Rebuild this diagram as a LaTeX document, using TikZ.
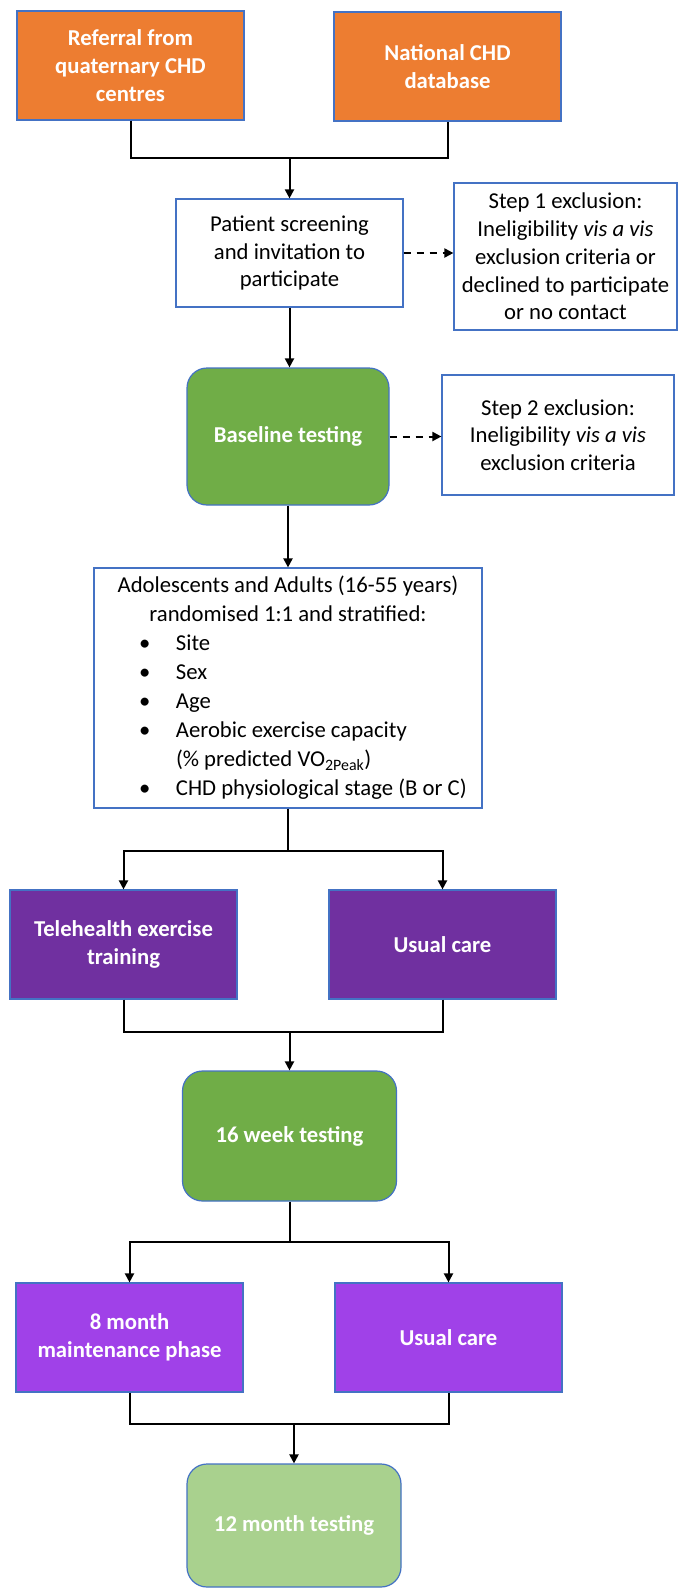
\documentclass[tikz,border=0pt]{standalone}
\usepackage{fontspec}
\setmainfont{Carlito}
\usetikzlibrary{arrows.meta}
\definecolor{cOrange}{HTML}{ED7D31}
\definecolor{cGreen}{HTML}{70AD47}
\definecolor{cLGreen}{HTML}{A9D18E}
\definecolor{cPurple}{HTML}{7030A0}
\definecolor{cLPurple}{HTML}{A041E8}
\definecolor{cBorder}{HTML}{4472C4}
\newcommand{\bulletline}[1]{\hspace*{36pt}\makebox[37pt][l]{\textbullet}#1\par}
\begin{document}
\begin{tikzpicture}[x=1pt,y=-1pt,
  boxbase/.style={draw=cBorder, line width=1.2pt, inner sep=0pt, align=center,
    font=\fontsize{22.7pt}{27.7pt}\selectfont},
  wbox/.style={boxbase, fill=white, text=black},
  cbox/.style={boxbase, text=white, font=\fontsize{22.7pt}{27.7pt}\selectfont\bfseries},
  obox/.style={cbox, fill=cOrange},
  pbox/.style={cbox, fill=cPurple},
  lpbox/.style={cbox, fill=cLPurple},
  gbox/.style={cbox, fill=cGreen, rounded corners=20pt},
  lgbox/.style={cbox, fill=cLGreen, rounded corners=20pt},
  ln/.style={line width=2pt, draw=black},
  arr/.style={ln, -{Triangle[length=9pt,width=9pt]}},
  darr/.style={ln, dash pattern=on 7pt off 6pt, -{Triangle[length=9pt,width=9pt]}}
]
\fill[white] (0,0) rectangle (678,1588);
\useasboundingbox (0,0) rectangle (678,1588);

\node[obox, minimum width=227pt, minimum height=109pt] (ref) at (130.5,65.5) {Referral from\\quaternary CHD\\centres};
\node[obox, minimum width=227pt, minimum height=109pt] (nat) at (447.5,66.5) {National CHD\\database};
\node[wbox, minimum width=227pt, minimum height=108pt] (pat) at (289.5,253) {Patient screening\\and invitation to\\participate};
\node[wbox, minimum width=223pt, minimum height=147pt] (st1) at (565.5,256.5) {Step 1 exclusion:\\Ineligibility \textit{vis a vis}\\exclusion criteria or\\declined to participate\\or no contact};
\node[gbox, minimum width=202pt, minimum height=137pt] (bas) at (288,436.5) {Baseline testing};
\node[wbox, minimum width=232pt, minimum height=120pt] (st2) at (558,435) {Step 2 exclusion:\\Ineligibility \textit{vis a vis}\\exclusion criteria};
\node[wbox, minimum width=388pt, minimum height=240pt] (adol) at (288,688) {\parbox{370pt}{\fontsize{22.7pt}{29pt}\selectfont\centering Adolescents and Adults (16-55 years)\\randomised 1:1 and stratified:\par\raggedright
\bulletline{Site}
\bulletline{Sex}
\bulletline{Age}
\bulletline{Aerobic exercise capacity}
\hspace*{73pt}(\% predicted VO\textsubscript{2Peak})\par
\bulletline{CHD physiological stage (B or C)}}};
\node[pbox, minimum width=227pt, minimum height=109pt] (tel) at (123.5,944.5) {Telehealth exercise\\training};
\node[pbox, minimum width=227pt, minimum height=109pt] (uc1) at (442.5,944.5) {Usual care};
\node[gbox, minimum width=214pt, minimum height=130pt] (w16) at (289.5,1136) {16 week testing};
\node[lpbox, minimum width=227pt, minimum height=109pt] (m8) at (129.5,1337.5) {8 month\\maintenance phase};
\node[lpbox, minimum width=227pt, minimum height=109pt] (uc2) at (448.5,1337.5) {Usual care};
\node[lgbox, minimum width=214pt, minimum height=123pt] (m12) at (294,1525.5) {12 month testing};

\coordinate (j1) at (289.5,158);
\coordinate (j2) at (288,851);
\coordinate (j3) at (289.5,1032);
\coordinate (j4) at (289.5,1242);
\coordinate (j5) at (294,1424);

\draw[ln] (ref.south) |- (j1) -| (nat.south);
\draw[arr] (j1) -- (pat.north);
\draw[darr] (pat.east) -- (pat.east -| st1.west);
\draw[arr] (pat.south) -- (pat.south |- bas.north);
\draw[darr] (bas.east) -- (bas.east -| st2.west);
\draw[arr] (bas.south) -- (adol.north);
\draw[ln] (adol.south) -- (j2);
\draw[arr] (j2) -| (tel.north);
\draw[arr] (j2) -| (uc1.north);
\draw[ln] (tel.south) |- (j3);
\draw[ln] (uc1.south) |- (j3);
\draw[arr] (j3) -- (w16.north);
\draw[ln] (w16.south) -- (j4);
\draw[arr] (j4) -| (m8.north);
\draw[arr] (j4) -| (uc2.north);
\draw[ln] (m8.south) |- (j5);
\draw[ln] (uc2.south) |- (j5);
\draw[arr] (j5) -- (m12.north);
\end{tikzpicture}
\end{document}
